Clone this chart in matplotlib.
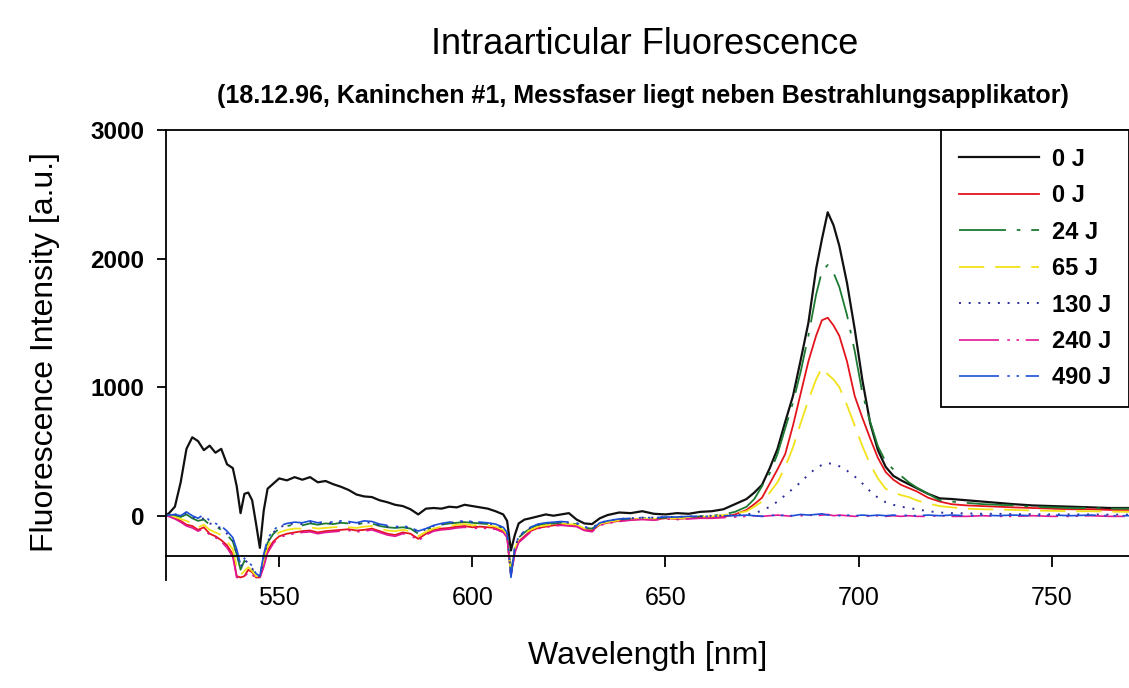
import numpy as np
import matplotlib
matplotlib.use("Agg")
import matplotlib.pyplot as plt

plt.rcParams['font.family'] = ['Liberation Sans', 'DejaVu Sans']

# wavelength grid [nm]
wavelength = [520.5, 521.5, 523, 524.5, 526, 527.5, 529, 530.5, 532, 533.5, 535, 536.5, 538, 539, 540, 541, 542, 543, 544, 545, 546, 547, 548.5,
              550, 552, 554, 556, 558, 560, 562, 564, 566, 568, 570, 572, 574, 576, 578, 580, 582, 584, 586, 588, 590, 592, 594, 596, 598, 600, 602, 604, 606, 608,
              609, 610, 611, 612, 613.5, 615,
              617, 619, 621, 623, 625, 627, 629, 631, 633, 635,
              638, 641, 644, 647, 650, 653, 656, 659, 662, 665, 668,
              671, 673, 675, 677, 679, 681, 683, 685, 687, 689,
              690.5, 692, 693.5, 695,
              697, 699, 701, 703, 705, 707, 709, 711, 713, 715,
              718, 721, 724,
              728, 732, 736, 740,
              745, 750, 755, 760, 765, 770]

# fluorescence intensity [a.u.] per dose
black_0J = [0, 20, 70, 260, 520, 610, 580, 510, 545, 490, 520, 400, 370, 230, 20, 170, 180, 120, -60, -250, 40, 210, 250,
            290, 275, 300, 280, 300, 260, 270, 245, 225, 200, 165, 150, 145, 120, 105, 85, 75, 50, 10, 55, 60, 55, 70, 65, 85, 75, 65, 55, 35, 10,
            -40, -270, -150, -60, -30, -20,
            -5, 10, 0, 10, 20, -30, -60, -65, -20, 5,
            25, 20, 35, 15, 10, 20, 15, 30, 35, 50, 90,
            130, 180, 240, 370, 520, 730, 930, 1210, 1500, 1920,
            2150, 2360, 2260, 2100,
            1810, 1450, 1050, 720, 510, 380, 310, 275, 245, 215,
            170, 135, 130,
            120, 110, 100, 90,
            80, 75, 70, 65, 60, 60]

red_0J = [0, -5, -20, -40, -70, -80, -110, -90, -140, -160, -190, -230, -300, -470, -480, -470, -420, -440, -480, -480, -380, -270, -200,
          -160, -140, -130, -120, -115, -130, -120, -115, -110, -105, -115, -110, -100, -120, -140, -150, -130, -140, -180, -140, -110, -100, -95, -85, -80, -90, -85, -90, -95, -120,
          -160, -460, -280, -200, -160, -120,
          -95, -85, -75, -70, -75, -80, -110, -115, -70, -55,
          -40, -30, -25, -30, -20, -25, -20, -15, -15, -10, 10,
          45, 90, 140, 250, 360, 480, 700, 950, 1200, 1400,
          1520, 1540, 1480, 1400,
          1200, 930, 760, 600, 450, 340, 280, 240, 215, 190,
          140, 110, 90,
          80, 75, 70, 65,
          60, 55, 50, 50, 45, 45]

green_24J = [0, 5, 0, -10, 10, -20, -40, -30, -70, -80, -110, -150, -200, -300, -420, -350, -380, -420, -470, -470, -330, -210, -140,
             -100, -80, -70, -75, -60, -70, -60, -65, -55, -60, -70, -55, -60, -80, -90, -95, -90, -100, -140, -110, -85, -70, -60, -55, -50, -55, -60, -65, -75, -100,
             -140, -440, -250, -170, -130, -100,
             -75, -65, -60, -55, -60, -65, -95, -100, -60, -45,
             -30, -25, -20, -20, -15, -15, -10, -5, 0, 10, 30,
             70, 130, 230, 330, 480, 680, 880, 1120, 1400, 1720,
             1900, 1950, 1890, 1780,
             1560, 1280, 950, 730, 540, 420, 360, 310, 260, 220,
             170, 120, 110,
             100, 90, 85, 80,
             70, 65, 60, 60, 55, 55]

yellow_65J = [0, 0, -10, -25, -40, -60, -90, -70, -110, -130, -150, -200, -260, -400, -460, -430, -400, -430, -470, -470, -350, -240, -170,
              -130, -110, -100, -100, -90, -100, -95, -90, -85, -90, -95, -85, -80, -100, -115, -120, -110, -120, -160, -125, -100, -85, -80, -70, -65, -75, -70, -75, -85, -110,
              -150, -450, -260, -180, -140, -110,
              -85, -75, -65, -60, -65, -70, -100, -105, -65, -50,
              -35, -30, -25, -25, -20, -20, -15, -10, -5, 5, 15,
              35, 70, 110, 180, 260, 380, 530, 720, 900, 1060,
              1150, 1100, 1060, 1000,
              860, 700, 540, 400, 290, 210, 180, 160, 145, 120,
              95, 75, 65,
              55, 50, 48, 45,
              40, 38, 35, 35, 32, 30]

navy_130J = [0, 5, 10, 5, 20, -10, -30, -20, -60, -70, -100, -140, -190, -290, -400, -340, -370, -410, -460, -470, -320, -200, -130,
             -90, -70, -60, -65, -50, -60, -55, -60, -50, -55, -65, -50, -55, -75, -85, -90, -85, -95, -130, -105, -80, -65, -55, -50, -45, -50, -55, -60, -70, -95,
             -135, -470, -250, -165, -125, -95,
             -70, -60, -55, -50, -55, -60, -90, -95, -55, -40,
             -25, -20, -15, -15, -10, -10, -5, -5, 0, 0, 5,
             10, 20, 40, 70, 110, 160, 210, 260, 320, 370,
             395, 410, 400, 385,
             350, 305, 250, 190, 140, 105, 85, 70, 60, 50,
             35, 25, 20,
             18, 15, 15, 12,
             12, 10, 10, 10, 8, 8]

magenta_240J = [0, -5, -25, -50, -80, -95, -120, -100, -150, -170, -200, -250, -320, -480, -485, -475, -440, -460, -485, -485, -400, -290, -215,
                -170, -150, -140, -130, -125, -140, -130, -125, -120, -115, -125, -120, -110, -130, -150, -160, -140, -150, -195, -150, -120, -110, -105, -95, -90, -100, -95, -100, -105, -130,
                -170, -470, -290, -210, -170, -130,
                -100, -90, -80, -75, -80, -85, -115, -125, -75, -60,
                -45, -35, -30, -35, -25, -30, -25, -20, -20, -15, -10,
                -5, 0, -5, 0, 5, 0, -5, 0, 5, 0,
                5, 10, 0, 5,
                0, -5, 0, -5, 0, -5, 0, -5, 0, -5,
                -5, 0, -5,
                -5, 0, -5, -5,
                0, -5, -5, 0, -5, -5]

blue_490J = [0, 5, 10, 0, 30, 0, -20, 10, -40, -60, -80, -120, -170, -260, -380, -330, -360, -390, -450, -470, -300, -180, -110,
             -80, -60, -50, -55, -40, -55, -45, -50, -40, -45, -55, -40, -45, -65, -75, -85, -80, -90, -120, -100, -75, -60, -50, -45, -40, -45, -50, -55, -65, -90,
             -130, -480, -245, -160, -120, -90,
             -65, -55, -50, -45, -50, -55, -85, -110, -55, -40,
             -25, -20, -15, -15, -10, -10, -5, -5, -5, 0, 0,
             5, 0, -5, 5, 0, 5, 0, 10, 5, 10,
             15, 5, 10, 0,
             5, 0, 5, 0, 5, 0, 5, 0, 5, 0,
             5, 0, 5,
             0, 5, 0, 5,
             0, 5, 0, 5, 0, 0]

labels = ['0 J', '0 J', '24 J', '65 J', '130 J', '240 J', '490 J']
series = [black_0J, red_0J, green_24J, yellow_65J, navy_130J, magenta_240J, blue_490J]
colors = ['#111111', '#e3141c', '#1c7a32', '#f2e21a', '#2b2b9c', '#e01896', '#1d4fd6']
dashes = [None, None, (26, 6, 2, 6), (14, 6), (1, 4), (24, 5, 1.5, 4, 1.5, 4), (24, 5, 1.5, 4, 1.5, 4)]
widths = [1.6, 1.3, 1.3, 1.3, 1.4, 1.2, 1.2]

fig = plt.figure(figsize=(11.29, 6.88), dpi=100)
ax = fig.add_axes([166 / 1129, 1 - 580 / 688, 1 - 166 / 1129, 450 / 688])

for y, lab, c, d, lw in zip(series, labels, colors, dashes, widths):
    line, = ax.plot(wavelength, y, color=c, lw=lw, label=lab)
    if d is not None:
        line.set_dashes(d)

ax.set_xlim(520.7, 770)
ax.set_ylim(-500, 3000)

# axes look: x axis crosses at -310, no right spine
ax.spines['bottom'].set_position(('data', -310))
ax.spines['right'].set_visible(False)
for s in ['left', 'top', 'bottom']:
    ax.spines[s].set_linewidth(1.3)

ax.set_xticks([550, 600, 650, 700, 750])
ax.set_yticks([0, 1000, 2000, 3000])
ax.tick_params(axis='x', direction='out', length=8, width=1.3, pad=14, labelsize=18)
ax.tick_params(axis='y', direction='out', length=6.5, width=1.3, pad=9, labelsize=17.5)
for t in ax.get_yticklabels():
    t.set_fontweight('bold')

fig.text(45 / 1129, 1 - 352 / 688, 'Fluorescence Intensity [a.u.]', rotation=90,
         ha='center', va='center', fontsize=23)
fig.text(648 / 1129, 1 - 656 / 688, 'Wavelength [nm]', ha='center', va='center', fontsize=23)

# titles
fig.text(645 / 1129, 1 - 45 / 688, 'Intraarticular Fluorescence', ha='center', va='center', fontsize=26)
fig.text(643 / 1129, 1 - 96 / 688, '(18.12.96, Kaninchen #1, Messfaser liegt neben Bestrahlungsapplikator)',
         ha='center', va='center', fontsize=18, fontweight='bold')

leg = ax.legend(loc='upper right', borderaxespad=0, fontsize=17, handlelength=3.4,
                handletextpad=0.55, labelspacing=0.57, borderpad=0.75, fancybox=False,
                edgecolor='black', framealpha=1)
leg.get_frame().set_linewidth(1.3)
for t in leg.get_texts():
    t.set_fontweight('bold')

fig.savefig('out.png', dpi=100)
